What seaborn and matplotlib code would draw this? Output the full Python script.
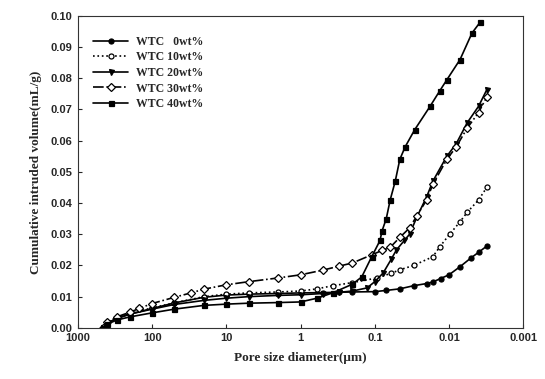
import matplotlib
matplotlib.use("Agg")
import matplotlib.pyplot as plt
from matplotlib.ticker import FixedLocator, FixedFormatter
import seaborn as sns
import pandas as pd

# pore diameter (um) and cumulative intruded volume (mL/g)
d_0 = [460, 400, 300, 200, 100, 50, 20, 10, 5, 2, 1, 0.5, 0.3, 0.2, 0.1, 0.07, 0.046,
       0.03, 0.02, 0.0165, 0.013, 0.01, 0.0071, 0.005, 0.004, 0.0031]
v_0 = [0, 0.0015, 0.003, 0.0044, 0.0062, 0.0080, 0.0098, 0.0105, 0.0108, 0.0110, 0.0112,
       0.0113, 0.0114, 0.0115, 0.0116, 0.0120, 0.0125, 0.0135, 0.0142, 0.0147, 0.0158,
       0.0170, 0.0196, 0.0225, 0.0242, 0.0262]

d_10 = [460, 400, 300, 200, 100, 50, 20, 10, 5, 2, 1, 0.6, 0.37, 0.2, 0.093, 0.06, 0.046,
        0.03, 0.0165, 0.0133, 0.0098, 0.0071, 0.0057, 0.004, 0.0031]
v_10 = [0, 0.0017, 0.0032, 0.0046, 0.0064, 0.0080, 0.0100, 0.0108, 0.0112, 0.0115, 0.0118,
        0.0125, 0.0135, 0.0145, 0.0160, 0.0175, 0.0186, 0.0200, 0.0228, 0.0260, 0.0300,
        0.0340, 0.0370, 0.0410, 0.0450]

d_20 = [460, 400, 300, 200, 100, 50, 20, 10, 5, 2, 1, 0.5, 0.3, 0.2, 0.127, 0.1, 0.077,
        0.06, 0.051, 0.04, 0.034, 0.027, 0.02, 0.0165, 0.0107, 0.008, 0.0057, 0.004, 0.0031]
v_20 = [0, 0.0016, 0.003, 0.0044, 0.0060, 0.0075, 0.0088, 0.0095, 0.0100, 0.0104, 0.0106,
        0.0110, 0.0114, 0.0118, 0.0128, 0.0148, 0.0176, 0.0220, 0.0250, 0.0280, 0.0300,
        0.0356, 0.0420, 0.0470, 0.0550, 0.0590, 0.0657, 0.0710, 0.0763]

d_30 = [460, 400, 300, 200, 150, 100, 50, 30, 20, 10, 5, 2, 1, 0.5, 0.3, 0.2, 0.11, 0.08,
        0.062, 0.046, 0.034, 0.027, 0.02, 0.0165, 0.0107, 0.008, 0.0057, 0.004, 0.0031]
v_30 = [0, 0.0018, 0.0035, 0.0050, 0.0062, 0.0078, 0.0098, 0.0112, 0.0124, 0.0138, 0.0148,
        0.0160, 0.0170, 0.0185, 0.0198, 0.0208, 0.0234, 0.0248, 0.0258, 0.0290, 0.0320,
        0.0360, 0.0410, 0.0460, 0.0540, 0.0580, 0.0640, 0.0690, 0.0740]

d_40 = [460, 400, 300, 200, 100, 50, 20, 10, 5, 2, 1, 0.6, 0.37, 0.2, 0.15, 0.11, 0.085,
        0.08, 0.07, 0.062, 0.053, 0.046, 0.039, 0.029, 0.018, 0.0133, 0.0107, 0.0071,
        0.0049, 0.0038]
v_40 = [0, 0.0012, 0.0025, 0.0035, 0.0048, 0.0060, 0.0072, 0.0076, 0.0079, 0.0081, 0.0083,
        0.0095, 0.0112, 0.0140, 0.0163, 0.0228, 0.0280, 0.0310, 0.0350, 0.0410, 0.0470,
        0.0540, 0.0580, 0.0635, 0.0710, 0.0760, 0.0795, 0.0860, 0.0945, 0.0980]

labels = ["WTC   0wt%", "WTC 10wt%", "WTC 20wt%", "WTC 30wt%", "WTC 40wt%"]
xs = [d_0, d_10, d_20, d_30, d_40]
ys = [v_0, v_10, v_20, v_30, v_40]

xticks = [1000, 100, 10, 1, 0.1, 0.01, 0.001]
xticklabels = ["1000", "100", "10", "1", "0.1", "0.01", "0.001"]
yticks = [0.00, 0.01, 0.02, 0.03, 0.04, 0.05, 0.06, 0.07, 0.08, 0.09, 0.10]

styles = [
    dict(marker="o", linestyle="-", mfc="black"),
    dict(marker="o", linestyle=":", mfc="white"),
    dict(marker="v", linestyle="-", mfc="black"),
    dict(marker="D", linestyle="-.", mfc="white"),
    dict(marker="s", linestyle="-", mfc="black"),
]

sns.set_style("ticks")
plt.rcParams["font.family"] = ["Liberation Sans", "DejaVu Sans"]

fig = plt.figure(figsize=(5.45, 3.79), dpi=100)
ax = fig.add_axes([0.143, 0.135, 0.817, 0.823])

for lab, x, y, st in zip(labels, xs, ys, styles):
    df = pd.DataFrame({"d": x, "v": y})
    sns.lineplot(data=df, x="d", y="v", ax=ax, color="black", sort=False,
                 estimator=None, label=lab, marker=st["marker"],
                 linestyle=st["linestyle"], markerfacecolor=st["mfc"],
                 markeredgecolor="black", markersize=3.6, linewidth=1.2,
                 markeredgewidth=0.9)

ax.set_xscale("log")
ax.set_xlim(1000, 0.001)
ax.set_ylim(0, 0.10)
ax.xaxis.set_major_locator(FixedLocator(xticks))
ax.xaxis.set_major_formatter(FixedFormatter(xticklabels))
ax.xaxis.set_minor_locator(FixedLocator([]))
ax.set_yticks(yticks)
ax.set_yticklabels([f"{t:.2f}" for t in yticks])
ax.tick_params(direction="in", length=3, width=0.8, labelsize=8, pad=4)
for lbl in ax.get_xticklabels() + ax.get_yticklabels():
    lbl.set_fontweight("bold")
for s in ax.spines.values():
    s.set_linewidth(0.8)
    s.set_color("#333333")

ax.set_xlabel("Pore size diameter(μm)", family=["Liberation Serif", "DejaVu Serif"],
              fontweight="bold", fontsize=9.5, labelpad=6)
ax.set_ylabel("Cumulative intruded volume(mL/g)", family=["Liberation Serif", "DejaVu Serif"],
              fontweight="bold", fontsize=9.5, labelpad=6)

leg = ax.legend(loc="upper left", bbox_to_anchor=(0.01, 0.97), frameon=False,
                prop={"family": "Liberation Serif", "weight": "bold", "size": 8.5},
                handlelength=3.0, labelspacing=0.3, handletextpad=0.6)

fig.savefig("out.png", dpi=100)
